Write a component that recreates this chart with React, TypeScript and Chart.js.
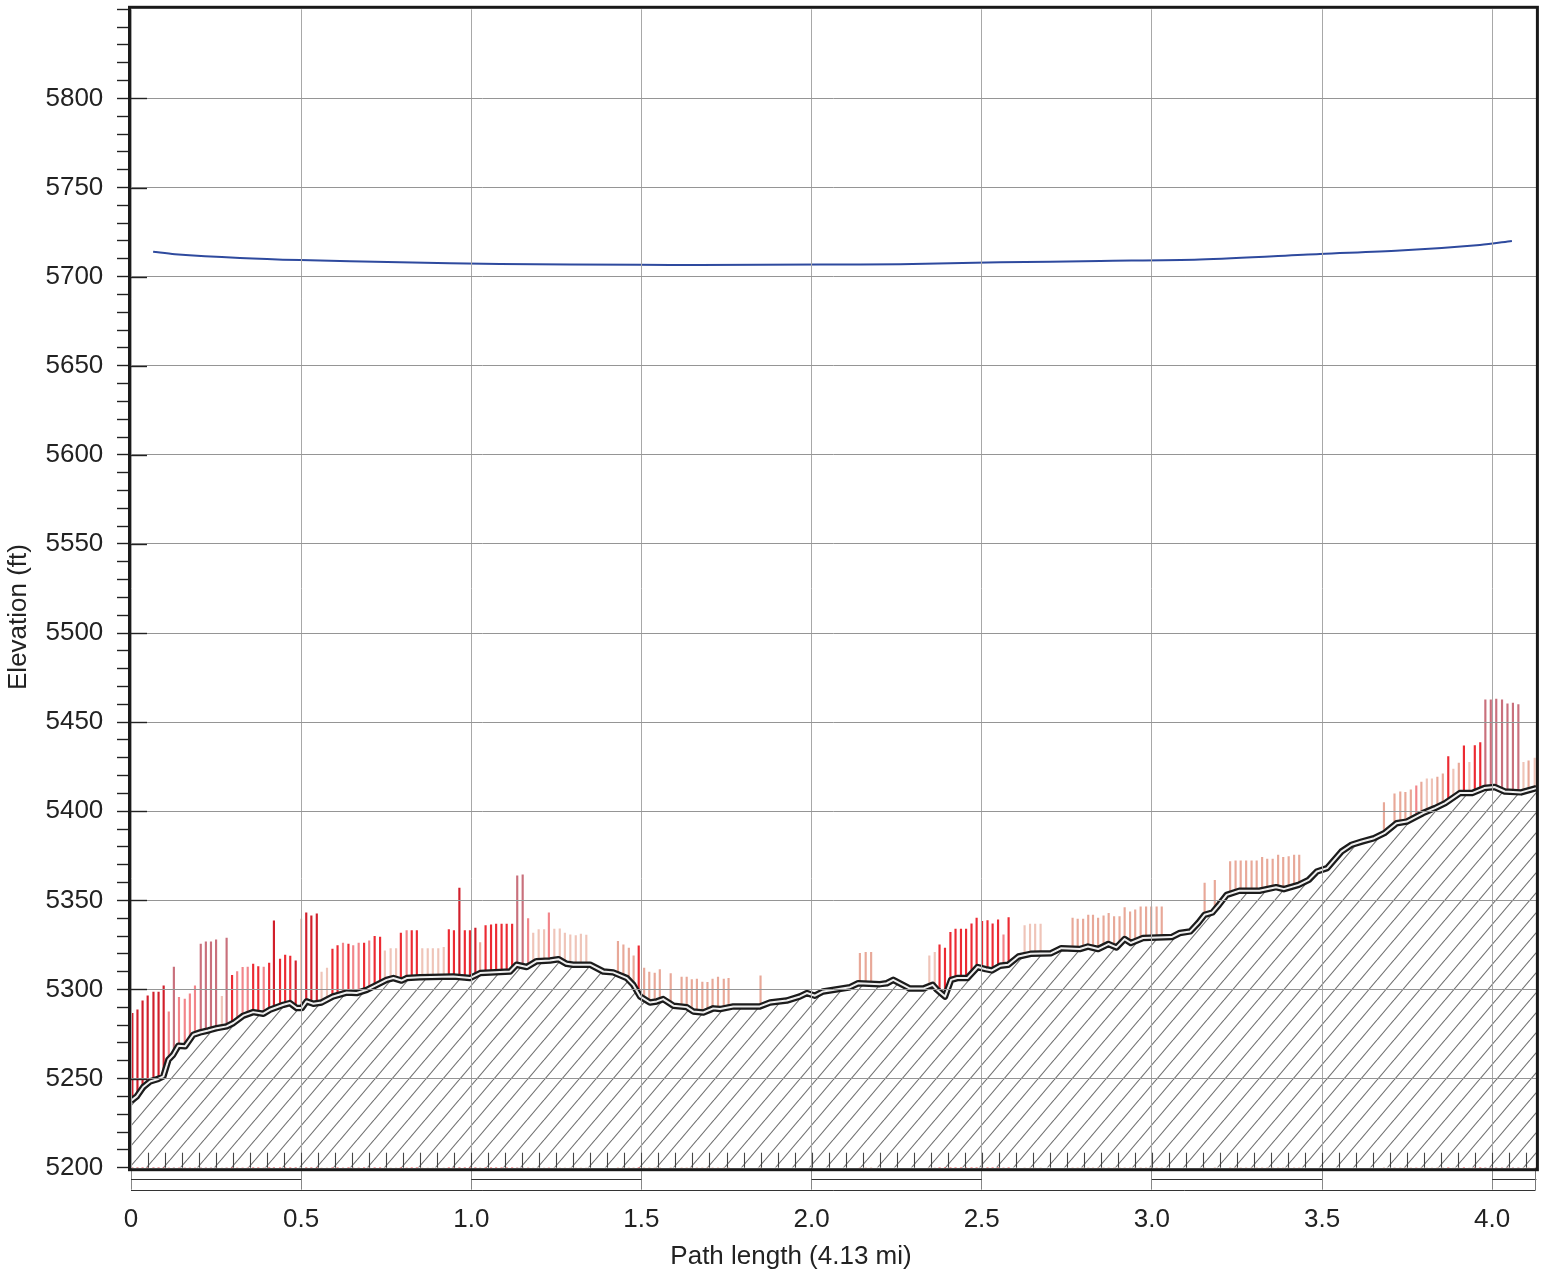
import React, { useEffect, useRef } from "react";
import { Chart, registerables } from "chart.js";

Chart.register(...registerables);

// ---------------- data ----------------
const xMaxMiles = 4.13;
const yMinFt = 5200;
const yMaxFt = 5850;
const xTickValues = [0, 0.5, 1.0, 1.5, 2.0, 2.5, 3.0, 3.5, 4.0];
const xTickLabels = ["0", "0.5", "1.0", "1.5", "2.0", "2.5", "3.0", "3.5", "4.0"];
const yLabelValues = [5200, 5250, 5300, 5350, 5400, 5450, 5500, 5550, 5600, 5650, 5700, 5750, 5800];
const xTitle = "Path length (4.13 mi)";
const yTitle = "Elevation (ft)";

// terrain profile (miles, feet)
const terrainMiles = [
  0, 0.017, 0.036, 0.056, 0.08, 0.095, 0.11, 0.124, 0.139, 0.159,
  0.183, 0.203, 0.227, 0.252, 0.281, 0.301, 0.33, 0.359, 0.389, 0.408,
  0.448, 0.467, 0.487, 0.502, 0.516, 0.536, 0.56, 0.594, 0.634, 0.663,
  0.693, 0.722, 0.751, 0.771, 0.795, 0.81, 0.849, 0.947, 0.996, 1.026,
  1.114, 1.133, 1.163, 1.192, 1.231, 1.256, 1.28, 1.3, 1.349, 1.388,
  1.417, 1.457, 1.476, 1.496, 1.525, 1.545, 1.564, 1.594, 1.633, 1.652,
  1.682, 1.711, 1.731, 1.77, 1.848, 1.878, 1.927, 1.966, 1.986, 2.01,
  2.034, 2.113, 2.137, 2.201, 2.221, 2.24, 2.289, 2.328, 2.356, 2.368,
  2.392, 2.41, 2.428, 2.458, 2.488, 2.512, 2.53, 2.554, 2.578, 2.608,
  2.644, 2.704, 2.734, 2.788, 2.812, 2.842, 2.872, 2.896, 2.92, 2.938,
  2.974, 3.058, 3.082, 3.113, 3.136, 3.155, 3.178, 3.197, 3.22, 3.257,
  3.316, 3.365, 3.388, 3.431, 3.461, 3.485, 3.515, 3.557, 3.587, 3.617,
  3.653, 3.683, 3.719, 3.749, 3.797, 3.832, 3.862, 3.905, 3.941, 3.977,
  4.007, 4.037, 4.085, 4.13,
];
const terrainFt = [
  5237.5, 5240, 5245.3, 5248.4, 5249.8, 5251.2, 5260.6, 5263.4, 5268.4, 5268.1,
  5274.6, 5275.9, 5277, 5278.3, 5279.3, 5281.2, 5285.3, 5287.3, 5286.4, 5288.6,
  5291.4, 5292.4, 5289.6, 5289.6, 5293.3, 5292, 5292.7, 5296.1, 5298.3, 5298,
  5299.8, 5302.6, 5305.4, 5306.4, 5305, 5306.4, 5306.8, 5307.3, 5306.4, 5309.2,
  5310.1, 5313.9, 5312.6, 5315.9, 5316.3, 5317, 5314.4, 5313.9, 5313.9, 5310.1,
  5309.6, 5306.4, 5302.6, 5296.1, 5292.7, 5293.3, 5294.6, 5290.9, 5290.1, 5287.7,
  5287.1, 5289.4, 5289, 5290.5, 5290.5, 5292.7, 5293.8, 5296.1, 5298, 5296.5,
  5298.9, 5301.3, 5303.5, 5303, 5303.5, 5305.4, 5300.5, 5300.5, 5302.6, 5300,
  5296, 5305.4, 5306.4, 5306.4, 5312.6, 5311.4, 5310.7, 5313.3, 5313.9, 5318.5,
  5320, 5320.4, 5323.2, 5322.7, 5324.1, 5322.7, 5325.5, 5323.6, 5328.3, 5326.1,
  5328.9, 5329.4, 5331.7, 5332.6, 5337.3, 5341.9, 5343.2, 5347.5, 5353.1, 5355.4,
  5355.4, 5357.4, 5356.3, 5358.7, 5361.5, 5366.2, 5368.1, 5377.4, 5381.2, 5383,
  5384.9, 5387.7, 5393.3, 5394.2, 5399, 5401.8, 5404.6, 5410.2, 5410.2, 5413,
  5413.6, 5411.1, 5410.6, 5413,
];

// path line (miles, feet)
const pathMiles = [0.065, 0.129, 0.32, 0.497, 0.79, 1.084, 1.496, 1.672, 2.025, 2.26, 2.554, 2.848, 3.141, 3.494, 3.729, 3.964, 4.058];
const pathFt = [5714, 5712.6, 5710.5, 5709.3, 5708, 5707.1, 5706.6, 5706.5, 5706.8, 5707, 5708, 5708.8, 5709.6, 5712.7, 5714.6, 5717.8, 5720];

// obstruction samples (miles, top in feet, class)
const obstMiles = [
  0.004, 0.019, 0.034, 0.049, 0.066, 0.081, 0.096, 0.111, 0.126, 0.141,
  0.158, 0.173, 0.188, 0.205, 0.22, 0.235, 0.25, 0.267, 0.281, 0.297,
  0.312, 0.328, 0.343, 0.359, 0.374, 0.39, 0.406, 0.42, 0.438, 0.453,
  0.468, 0.484, 0.5, 0.515, 0.53, 0.546, 0.56, 0.576, 0.592, 0.607,
  0.623, 0.639, 0.653, 0.669, 0.685, 0.7, 0.716, 0.732, 0.746, 0.763,
  0.779, 0.793, 0.81, 0.825, 0.84, 0.856, 0.872, 0.887, 0.903, 0.919,
  0.934, 0.949, 0.965, 0.981, 0.996, 1.012, 1.026, 1.042, 1.058, 1.073,
  1.089, 1.104, 1.12, 1.135, 1.151, 1.167, 1.182, 1.198, 1.214, 1.228,
  1.244, 1.26, 1.275, 1.291, 1.307, 1.322, 1.338, 1.431, 1.447, 1.463,
  1.477, 1.492, 1.508, 1.523, 1.539, 1.554, 1.586, 1.618, 1.633, 1.648,
  1.663, 1.679, 1.694, 1.709, 1.725, 1.742, 1.756, 1.85, 2.142, 2.159,
  2.175, 2.346, 2.362, 2.376, 2.392, 2.408, 2.423, 2.439, 2.454, 2.47,
  2.485, 2.501, 2.517, 2.532, 2.548, 2.564, 2.579, 2.626, 2.642, 2.657,
  2.673, 2.767, 2.782, 2.798, 2.813, 2.827, 2.842, 2.858, 2.873, 2.889,
  2.905, 2.92, 2.936, 2.951, 2.967, 2.983, 2.998, 3.014, 3.029, 3.155,
  3.185, 3.23, 3.246, 3.261, 3.277, 3.293, 3.308, 3.324, 3.339, 3.355,
  3.371, 3.386, 3.402, 3.418, 3.433, 3.682, 3.713, 3.73, 3.745, 3.761,
  3.777, 3.792, 3.808, 3.823, 3.839, 3.855, 3.871, 3.886, 3.902, 3.917,
  3.933, 3.949, 3.965, 3.98, 3.996, 4.012, 4.029, 4.045, 4.061, 4.077,
  4.092, 4.107, 4.125,
];
const obstTopFt = [
  5286.6, 5288.6, 5293.7, 5296.5, 5298.6, 5298.6, 5302.1, 5287.4, 5312.6, 5295.6,
  5294.6, 5297.6, 5302.1, 5325.5, 5326.8, 5326.8, 5327.9, 5296.1, 5328.8, 5307.9,
  5310, 5312.4, 5312.6, 5314.3, 5312.9, 5312.6, 5314.8, 5338.5, 5317, 5319.3,
  5318.7, 5316.1, 5339.5, 5343, 5341.3, 5342.5, 5309.8, 5312, 5322.7, 5324.7,
  5326.1, 5325.5, 5324.7, 5326.1, 5326.1, 5327.3, 5329.8, 5329.4, 5321.7, 5322.9,
  5322.9, 5331.7, 5333, 5333, 5333, 5322.9, 5322.9, 5322.9, 5322.9, 5323.6,
  5333.6, 5333, 5356.9, 5333, 5333, 5334.5, 5326.3, 5335.9, 5336.3, 5336.7,
  5336.7, 5336.7, 5336.7, 5363.8, 5364.4, 5339.8, 5331.7, 5333.6, 5333.6, 5343,
  5333.9, 5334.1, 5331.7, 5330.7, 5330.3, 5331.1, 5330.5, 5327, 5325.1, 5323.2,
  5318.9, 5324.5, 5312, 5309.8, 5309.2, 5311.1, 5308.9, 5307, 5307, 5305.5,
  5305.8, 5304.2, 5304, 5305.8, 5307, 5305.8, 5306.2, 5307.7, 5320.3, 5320.9,
  5320.9, 5318.9, 5320.8, 5325.1, 5323.2, 5332.1, 5333.9, 5333.9, 5333.9, 5336.9,
  5340, 5338.2, 5338.6, 5336.9, 5339.1, 5330.7, 5340.4, 5335.9, 5336.7, 5336.7,
  5336.7, 5340, 5339.5, 5339.5, 5341.7, 5341.7, 5340, 5341.3, 5342.8, 5340.9,
  5340.9, 5346, 5343.6, 5344.7, 5346.4, 5346.4, 5346.4, 5346.4, 5346.4, 5359.7,
  5361.2, 5371.8, 5372.2, 5372.2, 5372.2, 5372.2, 5372.2, 5374.1, 5373.2, 5373.2,
  5375.4, 5374.1, 5374.6, 5375.4, 5375.4, 5404.9, 5409.8, 5410.9, 5410.6, 5412.1,
  5414.3, 5416.4, 5418.2, 5418.2, 5419.2, 5421, 5430.7, 5423.7, 5427, 5436.7,
  5427.4, 5436.9, 5438.6, 5462.6, 5462.6, 5462.9, 5462.6, 5460.3, 5460.7, 5459.9,
  5427.4, 5428.3, 5429.8,
];
const obstKind = (
  "DDDDDDDPMP" + "PPPMMMMLMR" + "PPPRRPRDRR" + "RDLDDDLLRR" + "PRPPRPRRLL" +
  "LRPRRLLLLL" + "RRDRRDSRRR" + "RRRMMPLLLP" + "LLLLLLLSSS" + "SRSSSSSSSS" +
  "SSSSSSSSSS" + "SLLRRRRRRR" + "RRRRRPRLLL" + "LSSSSSSSSS" + "SSSSSSSSSS" +
  "SSSSSSSSSS" + "SSSSSSSSSS" + "PSLLSSRLSR" + "LRRMMMMMMM" + "LSL"
).split("");

// ---------------- styles ----------------
const FONT_FAMILY = "'Liberation Sans', Arial, Helvetica, sans-serif";
const TEXT_COLOR = "#222";
const KIND_COLORS: Record<string, string> = {
  D: "#d11f2b",
  R: "#ec2a32",
  P: "#f2858a",
  M: "#c9707c",
  L: "#efc4b8",
  S: "#e8a898",
};

function makeHatch(): CanvasPattern | string {
  const w = 17;
  const h = 20;
  const c = document.createElement("canvas");
  c.width = w;
  c.height = h;
  const g = c.getContext("2d");
  if (!g) return "#fff";
  g.fillStyle = "#ffffff";
  g.fillRect(0, 0, w, h);
  g.strokeStyle = "#707070";
  g.lineWidth = 1.1;
  for (const off of [-w, 0, w]) {
    g.beginPath();
    g.moveTo(off, h);
    g.lineTo(off + w, 0);
    g.stroke();
  }
  return g.createPattern(c, "repeat") || "#fff";
}

const decorPlugin = {
  id: "decor",
  afterDraw(chart: any) {
    const { ctx, chartArea: a, scales } = chart;
    const xs = scales.x;
    const ys = scales.y;
    ctx.save();

    // small inside ticks along the bottom every 0.05 mi
    ctx.strokeStyle = "#444";
    ctx.lineWidth = 1.1;
    for (let k = 1; k * 0.05 < xMaxMiles - 0.001; k++) {
      const px = Math.round(xs.getPixelForValue(k * 0.05)) + 0.5;
      ctx.beginPath();
      ctx.moveTo(px, a.bottom - 15);
      ctx.lineTo(px, a.bottom);
      ctx.stroke();
    }

    // major y ticks extending into the plot
    ctx.strokeStyle = "#222";
    ctx.lineWidth = 1.4;
    for (const v of yLabelValues) {
      if (v === yMinFt) continue;
      const py = Math.round(ys.getPixelForValue(v)) + 0.5;
      ctx.beginPath();
      ctx.moveTo(a.left, py);
      ctx.lineTo(a.left + 16, py);
      ctx.stroke();
    }

    // scale strip under the axis
    const bounds = [...xTickValues, xMaxMiles];
    const midY = Math.round(a.bottom + 11.6) + 0.5;
    const botY = Math.round(a.bottom + 22.3) + 0.5;
    ctx.strokeStyle = "#333";
    ctx.lineWidth = 1;
    for (let i = 0; i < bounds.length - 1; i++) {
      if (i % 2 !== 0) continue;
      ctx.beginPath();
      ctx.moveTo(xs.getPixelForValue(bounds[i]), midY);
      ctx.lineTo(xs.getPixelForValue(bounds[i + 1]), midY);
      ctx.stroke();
    }
    ctx.beginPath();
    ctx.moveTo(xs.getPixelForValue(0), botY);
    ctx.lineTo(xs.getPixelForValue(xMaxMiles) - 1, botY);
    ctx.stroke();
    ctx.strokeStyle = "#777";
    ctx.beginPath();
    const rx = Math.round(xs.getPixelForValue(xMaxMiles)) - 0.5;
    ctx.moveTo(rx, a.bottom);
    ctx.lineTo(rx, botY);
    ctx.stroke();

    // thick frame
    ctx.strokeStyle = "#1a1a1a";
    ctx.lineWidth = 3;
    ctx.strokeRect(a.left - 1.5, a.top - 2, a.right - a.left + 2.5, a.bottom - a.top + 4);

    // axis titles
    ctx.fillStyle = TEXT_COLOR;
    ctx.font = `26px ${FONT_FAMILY}`;
    ctx.textAlign = "center";
    ctx.textBaseline = "alphabetic";
    ctx.fillText(xTitle, 791, 1263.5);
    ctx.translate(19, 617);
    ctx.rotate(-Math.PI / 2);
    ctx.textBaseline = "middle";
    ctx.fillText(yTitle, 0, 0);

    ctx.restore();
  },
};

export default function App() {
  const ref = useRef<HTMLCanvasElement | null>(null);

  useEffect(() => {
    const canvas = ref.current;
    if (!canvas) return;
    const hatch = makeHatch();
    const terrainData = terrainMiles.map((m, i) => ({ x: m, y: terrainFt[i] }));
    const pathData = pathMiles.map((m, i) => ({ x: m, y: pathFt[i] }));
    const obstData = obstMiles.map((m, i) => ({ x: m, y: obstTopFt[i] }));

    const chart = new Chart(canvas, {
      type: "line",
      data: {
        datasets: [
          {
            type: "bar",
            label: "Obstructions",
            data: obstData as any,
            backgroundColor: obstKind.map((k) => KIND_COLORS[k]),
            borderWidth: 0,
            barThickness: 1.5,
            order: 4,
          } as any,
          {
            type: "line",
            label: "Terrain",
            data: terrainData as any,
            borderColor: "#1c1c1c",
            borderWidth: 6.5,
            borderJoinStyle: "round",
            backgroundColor: hatch as any,
            fill: "start",
            pointRadius: 0,
            tension: 0,
            order: 3,
          },
          {
            type: "line",
            label: "Terrain core",
            data: terrainData as any,
            borderColor: "#f0f0f0",
            borderWidth: 2,
            borderJoinStyle: "round",
            fill: false,
            pointRadius: 0,
            tension: 0,
            order: 2,
          },
          {
            type: "line",
            label: "Path",
            data: pathData as any,
            borderColor: "#2e4a9e",
            borderWidth: 2,
            fill: false,
            pointRadius: 0,
            tension: 0.3,
            order: 1,
          },
        ],
      },
      options: {
        responsive: false,
        animation: false,
        events: [],
        layout: { padding: { left: 0, top: 9.3, right: 6.6, bottom: 0 } },
        plugins: {
          legend: { display: false },
          tooltip: { enabled: false },
          title: { display: false },
        },
        scales: {
          x: {
            type: "linear",
            min: 0,
            max: xMaxMiles,
            offset: false,
            afterFit: (s: any) => {
              s.height = 104.3;
              s.paddingLeft = 0;
              s.paddingRight = 0;
            },
            afterBuildTicks: (s: any) => {
              s.ticks = xTickValues.map((v) => ({ value: v }));
            },
            grid: {
              offset: false,
              color: "#a8a8a8",
              lineWidth: 1,
              tickColor: "#888",
              tickLength: 22,
              tickWidth: 1,
              z: 1,
            },
            border: { display: false },
            ticks: {
              autoSkip: false,
              maxRotation: 0,
              padding: 15,
              color: TEXT_COLOR,
              font: { family: FONT_FAMILY, size: 26 },
              callback: (v: any) => {
                const i = xTickValues.indexOf(Number(v));
                return i >= 0 ? xTickLabels[i] : "";
              },
            },
          },
          y: {
            type: "linear",
            min: yMinFt,
            max: yMaxFt,
            afterFit: (s: any) => {
              s.width = 131;
              s.paddingTop = 0;
              s.paddingBottom = 0;
            },
            afterBuildTicks: (s: any) => {
              const t: { value: number }[] = [];
              for (let v = yMinFt; v <= yMaxFt; v += 10) t.push({ value: v });
              s.ticks = t;
            },
            grid: {
              color: (c: any) =>
                c.tick && yLabelValues.includes(c.tick.value) && c.tick.value !== yMinFt ? "#959595" : "rgba(0,0,0,0)",
              lineWidth: 1,
              tickColor: "#222",
              tickLength: 14,
              tickWidth: 1.4,
              z: 1,
            },
            border: { display: false },
            ticks: {
              autoSkip: false,
              padding: 13.7,
              color: TEXT_COLOR,
              font: { family: FONT_FAMILY, size: 26 },
              callback: (v: any) => (yLabelValues.includes(Number(v)) ? String(v) : ""),
            },
          },
        },
      },
      plugins: [decorPlugin],
    });

    return () => chart.destroy();
  }, []);

  return (
    <div style={{ position: "absolute", left: 0, top: 0, width: 1543, height: 1272, background: "#fff" }}>
      <canvas ref={ref} width={1543} height={1272} style={{ width: 1543, height: 1272, display: "block" }} />
    </div>
  );
}
